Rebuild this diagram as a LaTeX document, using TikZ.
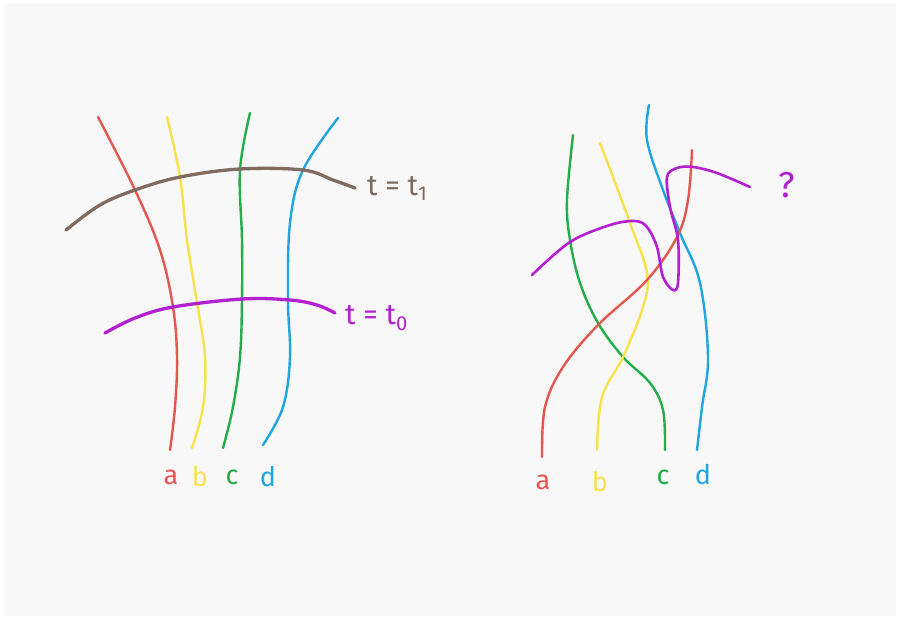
\documentclass[tikz,border=0pt]{standalone}
\usepackage{fontspec}
\setmainfont{Fira Sans}
\usepackage{xcolor}
\definecolor{paper}{HTML}{F8F8F8}
\definecolor{strandred}{HTML}{E5564F}
\definecolor{strandyellow}{HTML}{F8E24C}
\definecolor{strandgreen}{HTML}{22AE48}
\definecolor{strandblue}{HTML}{1FA6E0}
\definecolor{slicebrown}{HTML}{7F6B5F}
\definecolor{slicepurple}{HTML}{B320CF}
\usepackage{tikz}
\tikzset{
  strand/.style ={line width=2.4pt, line cap=round, line join=round},
  slice/.style  ={line width=3.3pt, line cap=round, line join=round},
  slbl/.style   ={font=\fontsize{27}{30}\selectfont, inner sep=1pt},
  tlbl/.style   ={font=\fontsize{29}{32}\selectfont, inner sep=1pt, anchor=west},
}

\begin{document}
\begin{tikzpicture}[x=1pt, y=-1pt]
  \useasboundingbox (0,0) rectangle (899,619);
  \fill[white] (0,0) rectangle (899,619);
  \fill[paper] (4,3) rectangle (896,616);
  % left panel: strands a--d and two time slices
  \draw[strand, strandred]    plot[smooth, tension=0.6] coordinates {(98,117) (135,190) (160,250) (173,307) (177,357) (175,407) (170,450)};
  \draw[strand, strandyellow] plot[smooth, tension=0.6] coordinates {(167,117) (180,177) (187,240) (197,303) (205,357) (203,407) (192,448)};
  \draw[strand, strandgreen]  plot[smooth, tension=0.6] coordinates {(250,113) (240,170) (242,240) (242,300) (240,357) (233,407) (223,448)};
  \draw[strand, strandblue]   plot[smooth, tension=0.6] coordinates {(338,118) (303,170) (290,223) (288,300) (290,357) (283,407) (263,445)};
  \draw[slice, slicebrown]  plot[smooth, tension=0.6] coordinates {(66,230) (100,205) (135,190) (180,177) (240,169) (303,170) (333,180) (355,188)};
  \draw[slice, slicepurple] plot[smooth, tension=0.6] coordinates {(105,333) (135,318) (173,307) (242,299) (290,300) (317,305) (335,313)};
  \node[tlbl, text=slicebrown]  (tone)  at (366,188) {t = t\textsubscript{1}};
  \node[tlbl, text=slicepurple] (tzero) at (344,318) {t = t\textsubscript{0}};
  \node[slbl, text=strandred]    (la) at (171,477) {a};
  \node[slbl, text=strandyellow] (lb) at (200,477) {b};
  \node[slbl, text=strandgreen]  (lc) at (232,477) {c};
  \node[slbl, text=strandblue]   (ld) at (268,477) {d};
  % right panel: braided strands and a folded slice
  \draw[strand, strandgreen]  plot[smooth, tension=0.6] coordinates {(573,135) (567,200) (570,240) (580,283) (598,323) (623,357) (650,383) (663,410) (665,450)};
  \draw[strand, strandyellow] plot[smooth, tension=0.6] coordinates {(600,143) (613,177) (630,223) (647,273) (643,307) (623,357) (602,397) (597,450)};
  \draw[strand, strandblue]   plot[smooth, tension=0.6] coordinates {(649,105) (647,140) (663,190) (680,233) (700,283) (708,357) (702,407) (697,450)};
  \draw[strand, strandred]    plot[smooth, tension=0.6] coordinates {(692,150) (688,200) (677,237) (647,280) (598,325) (563,367) (545,407) (542,457)};
  \draw[slice, slicepurple, line width=2.6pt] plot[smooth, tension=0.55] coordinates {(532,275) (570,242) (610,225) (635,221) (647,227) (657,247) (663,277) (673,290) (678,283) (678,240) (670,207) (667,177) (677,168) (693,167) (717,173) (750,187)};
  \node[tlbl, text=slicepurple, anchor=center, font=\fontsize{36}{40}\selectfont] (qm) at (787,185) {?};
  \node[slbl, text=strandred]    (ra) at (543,482) {a};
  \node[slbl, text=strandyellow] (rb) at (600,482) {b};
  \node[slbl, text=strandgreen]  (rc) at (663,477) {c};
  \node[slbl, text=strandblue]   (rd) at (703,475) {d};
\end{tikzpicture}
\end{document}
